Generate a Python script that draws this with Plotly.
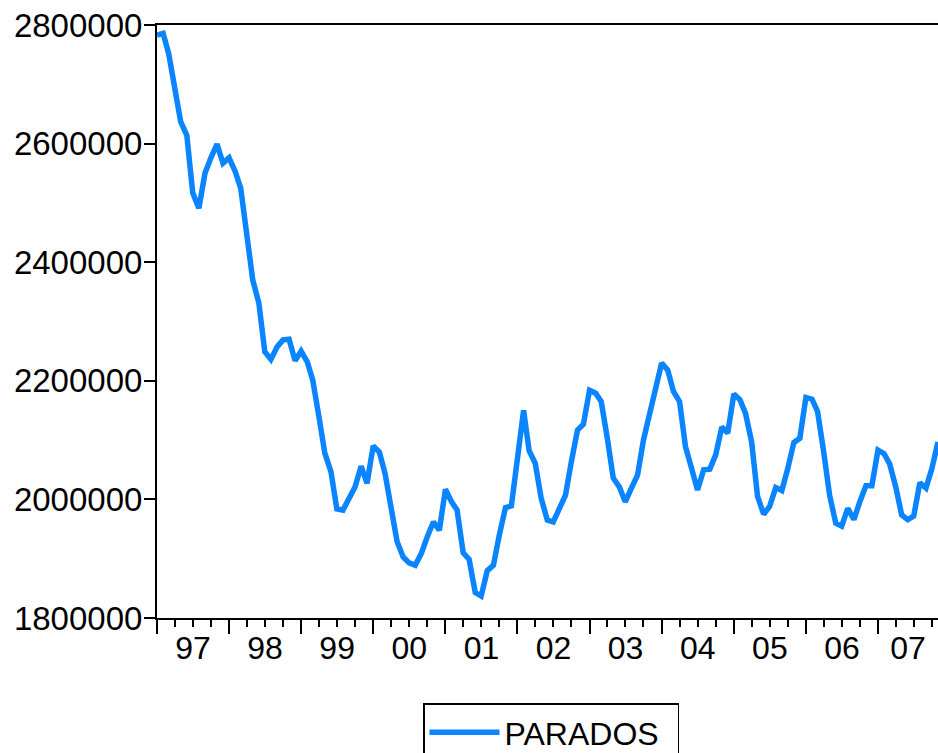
import pandas as pd
import plotly.graph_objects as go

# Monthly series PARADOS, 1997M01 - 2007M11
start_month = "1997-01-01"
parados = [
    2783000, 2786000, 2752000, 2696000, 2637000, 2614000, 2517000, 2491000, 2550000, 2576000, 2599000, 2567000,  # 1997
    2576000, 2553000, 2525000, 2446000, 2370000, 2331000, 2249000, 2236000, 2257000, 2269000, 2270000, 2234000,  # 1998
    2250000, 2232000, 2201000, 2140000, 2078000, 2047000, 1984000, 1982000, 2002000, 2021000, 2056000, 2027000,  # 1999
    2090000, 2080000, 2044000, 1988000, 1929000, 1903000, 1893000, 1889000, 1909000, 1937000, 1962000, 1948000,  # 2000
    2017000, 1996000, 1982000, 1910000, 1899000, 1843000, 1837000, 1880000, 1889000, 1940000, 1986000, 1989000,  # 2001
    2066000, 2150000, 2082000, 2061000, 2002000, 1965000, 1962000, 1985000, 2007000, 2064000, 2117000, 2127000,  # 2002
    2184000, 2179000, 2165000, 2103000, 2036000, 2021000, 1996000, 2019000, 2041000, 2100000, 2142000, 2179000,  # 2003
    2230000, 2218000, 2182000, 2165000, 2089000, 2052000, 2016000, 2050000, 2051000, 2075000, 2122000, 2112000,  # 2004
    2178000, 2168000, 2145000, 2097000, 2005000, 1975000, 1988000, 2020000, 2015000, 2052000, 2096000, 2103000,  # 2005
    2172000, 2169000, 2148000, 2080000, 2007000, 1960000, 1955000, 1985000, 1966000, 1996000, 2023000, 2023000,  # 2006
    2083000, 2077000, 2060000, 2021000, 1974000, 1966000, 1972000, 2028000, 2019000, 2052000, 2097000,           # 2007
]
series_name = "PARADOS"
year_labels = ["97", "98", "99", "00", "01", "02", "03", "04", "05", "06", "07"]
y_ticks = [1800000, 2000000, 2200000, 2400000, 2600000, 2800000]

dates = pd.date_range(start_month, periods=len(parados), freq="MS")
first, last = dates[0], dates[-1]

# label positions: centre of the visible part of each year
label_pos = []
for k in range(len(year_labels)):
    a = max(pd.Timestamp(first.year + k, 1, 1), first)
    b = min(pd.Timestamp(first.year + k + 1, 1, 1), last)
    label_pos.append(a + (b - a) / 2)

FONT = "Liberation Sans, Arial, sans-serif"
FS = 32
BLUE = "#0A84FF"

fig = go.Figure()
fig.add_trace(go.Scatter(
    x=dates, y=parados, mode="lines", name=series_name,
    line=dict(color=BLUE, width=5.5), showlegend=True,
))
# invisible carrier for the label axis
fig.add_trace(go.Scatter(
    x=[first, last], y=[y_ticks[0], y_ticks[0]], xaxis="x2", mode="lines",
    line=dict(width=0), opacity=0, showlegend=False, hoverinfo="skip",
))

fig.update_layout(
    width=938, height=753,
    margin=dict(l=157, r=0, t=25, b=135, autoexpand=False),
    paper_bgcolor="white", plot_bgcolor="white",
    font=dict(family=FONT, size=FS, color="black"),
    showlegend=True,
    legend=dict(
        orientation="h", x=0.3406, xanchor="left", y=-0.144, yanchor="top",
        bordercolor="black", borderwidth=1.5, bgcolor="white",
        font=dict(family=FONT, size=FS, color="black"),
        itemwidth=70, entrywidth=168,
    ),
    xaxis=dict(
        type="date", automargin=False,
        range=[first, last],
        showgrid=False, zeroline=False,
        showline=True, linecolor="black", linewidth=2, mirror=True,
        tick0=start_month, dtick="M12", showticklabels=False,
        ticks="outside", ticklen=14, tickwidth=2, tickcolor="black",
        minor=dict(dtick="M3", ticks="outside", ticklen=7, tickwidth=2, tickcolor="black", showgrid=False),
    ),
    xaxis2=dict(
        type="date", automargin=False,
        overlaying="x", anchor="y", side="bottom",
        range=[first, last],
        showgrid=False, zeroline=False, showline=False,
        tickvals=label_pos, ticktext=year_labels,
        ticks="outside", ticklen=2, tickcolor="rgba(0,0,0,0)",
        tickfont=dict(family=FONT, size=FS, color="black"),
    ),
    yaxis=dict(
        automargin=False,
        range=[1800000, 2800000],
        showgrid=False, zeroline=False,
        showline=True, linecolor="black", linewidth=2, mirror=False,
        tickvals=y_ticks, tickformat="d",
        ticks="outside", ticklen=11, tickwidth=2, tickcolor="black",
        ticklabelstandoff=-5,
        tickfont=dict(family=FONT, size=33, color="black"),
    ),
)

fig.write_html(
    "out.html",
    config={"displayModeBar": False},
    post_script="document.body.style.margin='0';document.body.style.overflow='hidden';",
)
